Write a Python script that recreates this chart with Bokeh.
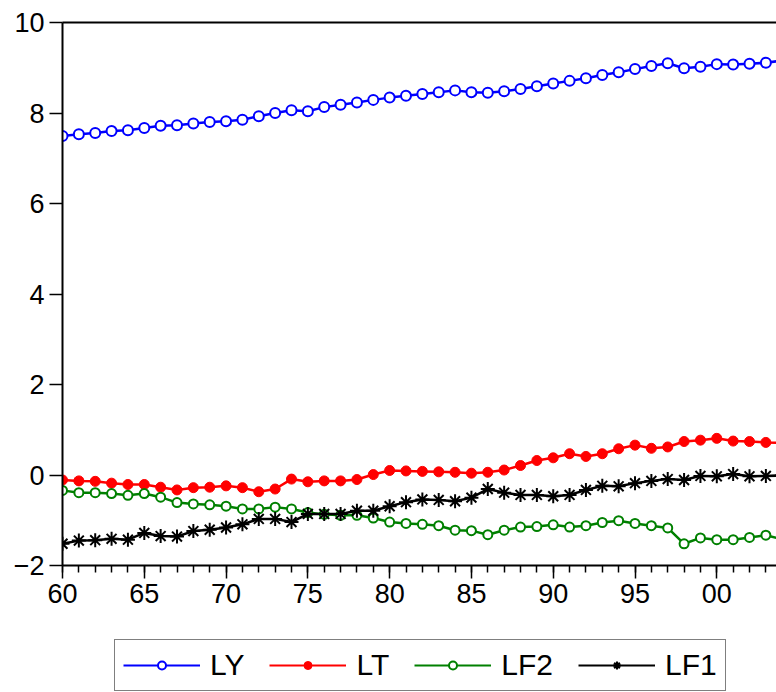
from bokeh.plotting import figure
from bokeh.layouts import column
from bokeh.models import (Range1d, FixedTicker, CustomJSTickFormatter, Legend,
                          LegendItem, LinearAxis)
from bokeh.embed import file_html
from bokeh.resources import INLINE

years = list(range(1960, 2005))

LY = [7.49, 7.53, 7.56, 7.60, 7.62, 7.67, 7.72, 7.73, 7.77, 7.80,
      7.82, 7.85, 7.93, 8.00, 8.06, 8.04, 8.13, 8.18, 8.23, 8.29,
      8.34, 8.38, 8.42, 8.46, 8.50, 8.46, 8.45, 8.48, 8.53, 8.59,
      8.65, 8.71, 8.77, 8.84, 8.90, 8.97, 9.04, 9.10, 8.99, 9.02,
      9.08, 9.07, 9.09, 9.11, 9.16]
LT = [-0.11, -0.13, -0.14, -0.18, -0.21, -0.21, -0.27, -0.33, -0.28, -0.27,
      -0.24, -0.28, -0.37, -0.31, -0.09, -0.15, -0.13, -0.13, -0.10, 0.01,
      0.10, 0.09, 0.08, 0.07, 0.06, 0.04, 0.06, 0.11, 0.21, 0.32,
      0.38, 0.47, 0.41, 0.47, 0.58, 0.66, 0.59, 0.62, 0.74, 0.77,
      0.81, 0.75, 0.74, 0.72, 0.71]
LF2 = [-0.34, -0.39, -0.39, -0.41, -0.45, -0.41, -0.49, -0.61, -0.64, -0.66,
       -0.69, -0.75, -0.75, -0.71, -0.75, -0.83, -0.87, -0.89, -0.89, -0.95,
       -1.04, -1.07, -1.09, -1.12, -1.22, -1.23, -1.32, -1.22, -1.15, -1.14,
       -1.10, -1.15, -1.12, -1.05, -1.01, -1.07, -1.12, -1.17, -1.52, -1.39,
       -1.43, -1.43, -1.38, -1.33, -1.42]
LF1 = [-1.52, -1.45, -1.44, -1.41, -1.43, -1.28, -1.35, -1.36, -1.24, -1.21,
       -1.16, -1.09, -0.97, -0.97, -1.04, -0.86, -0.86, -0.86, -0.79, -0.79,
       -0.69, -0.60, -0.54, -0.55, -0.58, -0.50, -0.31, -0.39, -0.44, -0.44,
       -0.47, -0.44, -0.33, -0.24, -0.25, -0.18, -0.13, -0.09, -0.11, -0.02,
       -0.03, 0.02, -0.03, -0.02, -0.01]

series_names = ["LY", "LT", "LF2", "LF1"]
series_values = [LY, LT, LF2, LF1]
x_major = [1960, 1965, 1970, 1975, 1980, 1985, 1990, 1995, 2000]
y_major = [-2, 0, 2, 4, 6, 8, 10]

FONT = "Liberation Sans"

styles = [
    dict(color="#0000ff", marker="circle", size=10, fill="white", lw=2),
    dict(color="#ff0000", marker="circle", size=10, fill="#ff0000", lw=1),
    dict(color="#008000", marker="circle", size=9, fill="white", lw=2),
    dict(color="black", marker="asterisk", size=14, fill=None, lw=2),
]

p = figure(width=776, height=625, output_backend="svg", toolbar_location=None,
           x_range=Range1d(1960, 2003.65), y_range=Range1d(-2, 10),
           min_border_left=62, min_border_top=22, min_border_right=0,
           min_border_bottom=60)
p.outline_line_color = None
p.xgrid.visible = False
p.ygrid.visible = False
p.background_fill_color = "white"
p.border_fill_color = "white"

for ax in (p.xaxis[0], p.yaxis[0]):
    ax.axis_line_width = 2
    ax.axis_line_color = "black"
    ax.major_tick_line_width = 1.5
    ax.minor_tick_line_width = 1.5
    ax.major_tick_in = 0
    ax.major_tick_out = 13
    ax.minor_tick_in = 0
    ax.minor_tick_out = 7
    ax.major_label_text_font = FONT
    ax.major_label_text_font_size = "27px"
    ax.major_label_text_color = "black"
    ax.major_label_standoff = 5

p.xaxis.ticker = FixedTicker(ticks=x_major, minor_ticks=years)
p.xaxis.formatter = CustomJSTickFormatter(code="return String(tick).slice(2);")
p.yaxis.ticker = FixedTicker(ticks=y_major, minor_ticks=[])

# top frame line (no right border visible in the reference)
top = LinearAxis(axis_line_width=2, axis_line_color="black",
                 ticker=FixedTicker(ticks=[], minor_ticks=[]),
                 major_tick_out=0, minor_tick_out=0, major_label_standoff=0)
p.add_layout(top, "above")

for vals, st in zip(series_values, styles):
    p.line(years, vals, line_color=st["color"], line_width=2.5)
    p.scatter(years, vals, marker=st["marker"], size=st["size"],
              fill_color=st["fill"], line_color=st["color"], line_width=st["lw"])

# legend strip below the chart (its renderers hold the same series, out of view)
q = figure(width=776, height=67, output_backend="svg", toolbar_location=None,
           x_axis_type=None, y_axis_type=None, min_border=0,
           x_range=Range1d(0, 1), y_range=Range1d(0, 1))
q.outline_line_color = None
q.xgrid.visible = False
q.ygrid.visible = False
q.background_fill_color = "white"
q.border_fill_color = "white"

items = []
for name, vals, st in zip(series_names, series_values, styles):
    rl = q.line(years, vals, line_color=st["color"], line_width=2)
    rs = q.scatter(years, vals, marker=st["marker"], size=st["size"],
                   fill_color=st["fill"], line_color=st["color"],
                   line_width=st["lw"])
    items.append(LegendItem(label=name, renderers=[rl, rs]))

legend = Legend(items=items, orientation="horizontal", location=(52, 1),
                border_line_color="black", border_line_width=1.5,
                label_text_font=FONT, label_text_font_size="30px",
                label_text_color="black",
                glyph_width=77, glyph_height=20, label_standoff=10, spacing=25,
                padding=8, margin=0, background_fill_color="white",
                background_fill_alpha=1.0)
q.add_layout(legend)

layout = column(p, q, spacing=0)
open("out.html", "w").write(file_html(layout, INLINE))
